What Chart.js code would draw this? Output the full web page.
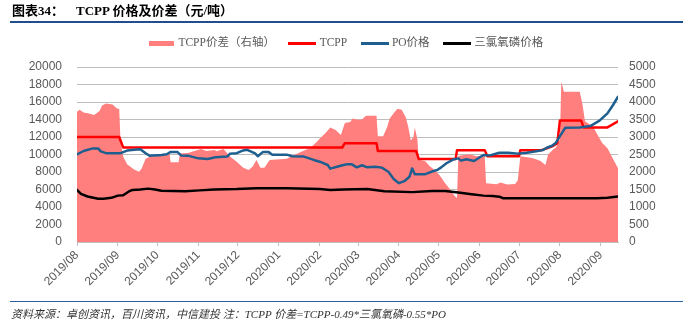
<!DOCTYPE html>
<html><head><meta charset="utf-8">
<script src="https://cdn.jsdelivr.net/npm/chart.js@4.4.0/dist/chart.umd.min.js"></script>
<style>
html,body{margin:0;padding:0;background:#fff;}
#wrap{position:relative;width:693px;height:329px;overflow:hidden;}
#c{position:absolute;left:0;top:0;}
.title{position:absolute;left:12px;top:3px;font:bold 13px "Liberation Serif","Noto Sans CJK SC",serif;color:#000;white-space:nowrap;line-height:16px;}
.rule-top{position:absolute;left:10px;top:21px;width:673px;height:2px;background:#1F4E8C;}
.rule-bottom{position:absolute;left:10px;top:301px;width:673px;height:1px;background:#2F5F9E;}
.foot{position:absolute;left:11px;top:307px;font:italic 11px "Liberation Serif","Noto Sans CJK SC",serif;color:#333;white-space:nowrap;line-height:14px;}
</style></head><body>
<div id="wrap">
<canvas id="c" width="693" height="329"></canvas>
<div class="title">图表34：<span style="margin-left:12px">TCPP 价格及价差（元/吨）</span></div>
<div class="rule-top"></div>
<div class="rule-bottom"></div>
<div class="foot">资料来源：卓创资讯，百川资讯，中信建投 注：TCPP 价差=TCPP-0.49*三氯氧磷-0.55*PO</div>
</div>
<script>
// ---- data ----
const monthLabels = ['2019/08','2019/09','2019/10','2019/11','2019/12','2020/01','2020/02','2020/03','2020/04','2020/05','2020/06','2020/07','2020/08','2020/09'];
const seriesNames = ['TCPP价差（右轴）','TCPP','PO价格','三氯氧磷价格'];
const axisEnd = '2020-09-14';

const spreadDates = ['2019-08-01','2019-08-03','2019-08-06','2019-08-10','2019-08-14','2019-08-18','2019-08-20','2019-08-23','2019-08-28','2019-08-31','2019-09-02','2019-09-03','2019-09-05','2019-09-08','2019-09-13','2019-09-17','2019-09-19','2019-09-22','2019-09-25','2019-09-28','2019-10-07','2019-10-10','2019-10-11','2019-10-17','2019-10-18','2019-10-24','2019-10-29','2019-11-03','2019-11-07','2019-11-13','2019-11-15','2019-11-20','2019-11-25','2019-11-30','2019-12-05','2019-12-09','2019-12-12','2019-12-15','2019-12-18','2019-12-21','2019-12-25','2020-01-07','2020-01-15','2020-01-25','2020-01-30','2020-02-01','2020-02-05','2020-02-09','2020-02-13','2020-02-17','2020-02-20','2020-02-24','2020-02-26','2020-03-01','2020-03-04','2020-03-07','2020-03-15','2020-03-16','2020-03-20','2020-03-23','2020-03-25','2020-03-29','2020-03-31','2020-04-03','2020-04-06','2020-04-08','2020-04-10','2020-04-12','2020-04-13','2020-04-15','2020-04-16','2020-04-21','2020-04-24','2020-04-28','2020-05-02','2020-05-06','2020-05-10','2020-05-13','2020-05-15','2020-05-16','2020-05-21','2020-05-25','2020-05-30','2020-06-05','2020-06-06','2020-06-14','2020-06-17','2020-06-22','2020-06-28','2020-06-30','2020-07-02','2020-07-11','2020-07-17','2020-07-21','2020-07-23','2020-07-27','2020-07-29','2020-08-01','2020-08-02','2020-08-04','2020-08-16','2020-08-18','2020-08-20','2020-08-26','2020-09-02','2020-09-06','2020-09-14'];
const spreadValues = [3720,3780,3700,3670,3630,3740,3900,3960,3930,3820,3800,2870,2440,2220,2080,2010,2100,2380,2430,2450,2470,2560,2280,2280,2530,2540,2600,2660,2600,2630,2590,2660,2440,2290,2120,2060,2150,2340,2120,2120,2340,2380,2530,2690,2870,2960,3100,3270,3200,3060,3400,3430,3530,3490,3500,3610,3610,3020,3020,3280,3530,3730,3810,3780,3580,3300,2900,3000,3270,2920,2350,2310,2180,2060,1900,1680,1490,1320,1260,2460,2490,2500,2450,2480,1680,1650,1700,1640,1660,1760,2450,2400,2320,2200,2500,2650,2700,2940,4580,4290,4290,3950,3450,3300,2830,2680,2110];

const tcppDates = ['2019-08-01','2019-09-02','2019-09-05','2020-02-18','2020-02-20','2020-03-15','2020-03-16','2020-04-14','2020-04-16','2020-05-14','2020-05-15','2020-06-05','2020-06-07','2020-07-01','2020-07-02','2020-07-18','2020-07-22','2020-07-27','2020-07-30','2020-08-01','2020-08-17','2020-08-19','2020-09-06','2020-09-14'];
const tcppValues = [12000,12000,10800,10800,11300,11300,10400,10400,9500,9500,10500,10500,9800,9800,10500,10500,10700,11000,11300,13900,13900,13100,13100,13800];

const poDates = ['2019-08-01','2019-08-06','2019-08-13','2019-08-17','2019-08-19','2019-08-23','2019-09-03','2019-09-08','2019-09-15','2019-09-18','2019-09-22','2019-09-25','2019-10-04','2019-10-08','2019-10-11','2019-10-16','2019-10-19','2019-10-24','2019-11-01','2019-11-08','2019-11-14','2019-11-23','2019-11-25','2019-11-30','2019-12-05','2019-12-08','2019-12-14','2019-12-16','2019-12-20','2019-12-24','2019-12-27','2020-01-07','2020-01-11','2020-01-20','2020-01-28','2020-02-01','2020-02-07','2020-02-09','2020-02-14','2020-02-19','2020-02-22','2020-02-25','2020-02-29','2020-03-04','2020-03-08','2020-03-14','2020-03-19','2020-03-24','2020-03-28','2020-04-01','2020-04-05','2020-04-09','2020-04-11','2020-04-13','2020-04-21','2020-04-26','2020-04-30','2020-05-03','2020-05-07','2020-05-12','2020-05-16','2020-05-18','2020-05-22','2020-05-28','2020-06-01','2020-06-04','2020-06-09','2020-06-16','2020-06-23','2020-06-30','2020-07-07','2020-07-14','2020-07-19','2020-07-22','2020-07-26','2020-07-29','2020-08-01','2020-08-05','2020-08-16','2020-08-24','2020-08-31','2020-09-06','2020-09-10','2020-09-14'];
const poValues = [10000,10400,10700,10700,10350,10150,10150,10450,10580,10600,10150,9850,9950,10030,10300,10300,9880,9870,9560,9480,9680,9780,10100,10150,10470,10530,10130,9800,10300,10300,9980,9980,9800,9760,9350,9180,8800,8380,8600,8800,8900,8900,8530,8770,8530,8600,8500,8030,7200,6720,6950,7460,8400,7750,7750,8050,8220,8530,9000,9420,9560,9300,9450,9250,9650,9940,9900,10200,10200,10100,10200,10360,10500,10770,11000,11350,12100,13050,13080,13250,13870,14700,15600,16600];

const pocl3Dates = ['2019-08-01','2019-08-04','2019-08-09','2019-08-17','2019-08-21','2019-08-27','2019-09-01','2019-09-05','2019-09-09','2019-09-12','2019-09-18','2019-09-24','2019-09-29','2019-10-04','2019-10-22','2019-11-02','2019-11-13','2019-11-30','2019-12-15','2020-01-07','2020-02-01','2020-02-09','2020-02-19','2020-03-08','2020-03-21','2020-04-11','2020-04-26','2020-05-06','2020-05-16','2020-05-26','2020-06-04','2020-06-11','2020-06-16','2020-06-19','2020-08-29','2020-09-06','2020-09-14'];
const pocl3Values = [5950,5500,5200,4950,4950,5050,5300,5350,5750,5950,6000,6100,6000,5850,5800,5900,6000,6050,6150,6150,6050,5950,6000,6050,5800,5700,5830,5830,5650,5450,5300,5250,5180,5000,5000,5050,5200];

// ---- helpers ----
const START = Date.UTC(2019, 7, 1);
function dayOf(s){ const p = s.split(/[-\/]/).map(Number); return (Date.UTC(p[0], p[1]-1, p[2] || 1) - START) / 86400000; }
function pts(dates, vals){ return dates.map((d,i) => ({x: dayOf(d), y: vals[i]})); }

function icon(w, h, color){
  const cv = document.createElement('canvas'); cv.width = w; cv.height = h;
  const g = cv.getContext('2d'); g.fillStyle = color; g.fillRect(0,0,w,h); return cv;
}
const colors = {spread:'#FF7F7F', tcpp:'#FF0000', po:'#1F5F8F', pocl3:'#000000'};
const legendIcons = [icon(25,5,colors.spread), icon(28,3,colors.tcpp), icon(28,3,colors.po), icon(28,3,colors.pocl3)];

const tickFont = {family:'"Liberation Sans", Arial, sans-serif', size:12};
const tickColor = '#595959';

new Chart(document.getElementById('c'), {
  type: 'line',
  data: {
    datasets: [
      {label: seriesNames[0], data: pts(spreadDates, spreadValues), yAxisID:'y1', fill:'origin',
       backgroundColor: colors.spread, borderColor: colors.spread, borderWidth: 0, pointRadius: 0, order: 4},
      {label: seriesNames[1], data: pts(tcppDates, tcppValues), yAxisID:'y', borderColor: colors.tcpp,
       backgroundColor: colors.tcpp, borderWidth: 2.5, pointRadius: 0, fill:false, order: 3},
      {label: seriesNames[2], data: pts(poDates, poValues), yAxisID:'y', borderColor: colors.po,
       backgroundColor: colors.po, borderWidth: 2.5, pointRadius: 0, fill:false, order: 2},
      {label: seriesNames[3], data: pts(pocl3Dates, pocl3Values), yAxisID:'y', borderColor: colors.pocl3,
       backgroundColor: colors.pocl3, borderWidth: 2.5, pointRadius: 0, fill:false, order: 1}
    ]
  },
  options: {
    responsive: false,
    animation: false,
    devicePixelRatio: 1,
    layout: {padding: {top: 21.25, left: 0, right: 0, bottom: 0}},
    elements: {line: {tension: 0, borderJoinStyle: 'round', borderCapStyle: 'round'}},
    plugins: {
      tooltip: {enabled: false},
      title: {display: false},
      subtitle: {display: true, text: '', weight: 500, position: 'top', padding: 0, font: {size: 8.25, lineHeight: 1}},
      legend: {
        display: true, position: 'top', align: 'center',
        labels: {
          usePointStyle: true, pointStyleWidth: 23, padding: 16, color: '#595959',
          font: {family: '"Liberation Serif", "Noto Sans CJK SC", serif', size: 11.5},
          generateLabels(chart){
            const items = Chart.defaults.plugins.legend.labels.generateLabels(chart);
            items.sort((a, b) => a.datasetIndex - b.datasetIndex);
            items.forEach(it => { it.pointStyle = legendIcons[it.datasetIndex]; });
            return items;
          }
        }
      }
    },
    scales: {
      x: {
        type: 'linear', min: 0, max: dayOf(axisEnd),
        afterFit(s){ s.height = 87; },
        afterBuildTicks(s){ s.ticks = monthLabels.map(l => ({value: dayOf(l)})); },
        ticks: {autoSkip: false, minRotation: 45, maxRotation: 45, padding: 2, color: tickColor, font: tickFont,
                callback: (v, i) => monthLabels[i]},
        grid: {drawOnChartArea: false, drawTicks: true, tickLength: 4, color: '#BFBFBF'},
        border: {display: true, color: '#BFBFBF'}
      },
      y: {
        position: 'left', min: 0, max: 20000,
        afterFit(s){ s.width = 77; },
        ticks: {stepSize: 2000, padding: 15, color: tickColor, font: tickFont, callback: v => String(v)},
        grid: {drawTicks: false, color: '#BDBDBD'},
        border: {display: false}
      },
      y1: {
        position: 'right', min: 0, max: 5000,
        afterFit(s){ s.width = 75; },
        ticks: {stepSize: 500, padding: 11, color: tickColor, font: tickFont, callback: v => String(v)},
        grid: {drawOnChartArea: false, drawTicks: false},
        border: {display: false}
      }
    }
  }
});
</script>
</body></html>
